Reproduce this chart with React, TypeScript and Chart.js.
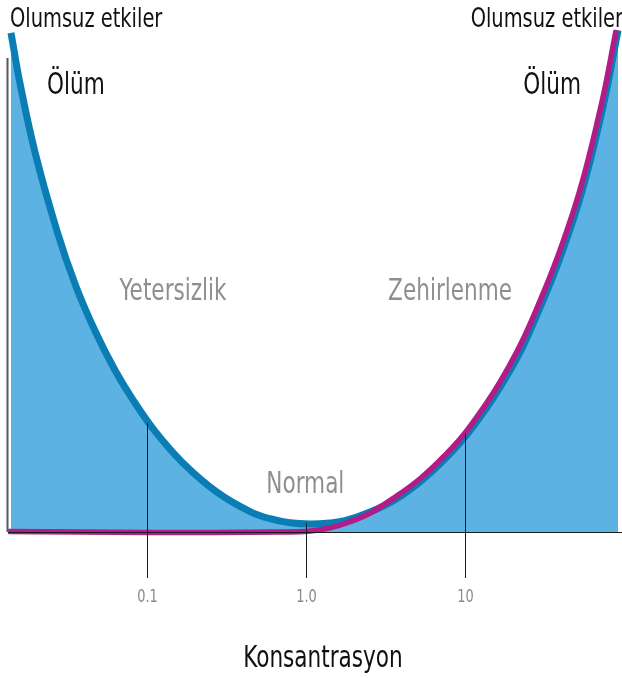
import { useEffect, useRef } from "react";
import { Chart, registerables } from "chart.js";

Chart.register(...registerables);

// Blue U-curve (essential substance: deficiency / normal / toxicity)
const essentialConc = [0.01396, 0.01589, 0.01976, 0.02718, 0.03573, 0.04775, 0.06295, 0.0817, 0.1122, 0.1683, 0.2754, 0.4446, 0.5937, 0.7932, 1.0597, 1.416, 1.759, 2.527, 3.628, 5.21, 7.484, 10.44, 16.6, 25.63, 47.8, 70.6, 91.7];
const essentialEffect = [97.5, 87.7, 74.2, 58.8, 48.0, 38.9, 31.6, 25.8, 19.7, 13.5, 7.8, 4.0, 2.6, 1.8, 1.56, 1.76, 2.2, 3.9, 6.3, 9.8, 14.3, 19.3, 28.3, 39.3, 60.9, 80.5, 98.0];

// Magenta curve (non-essential substance: only toxicity)
const toxicConc = [0.0134, 0.1045, 0.686, 1.06, 1.416, 1.892, 2.527, 3.628, 5.21, 7.484, 10.44, 16.6, 25.63, 47.8, 70.6, 89.1];
const toxicEffect = [0.1, -0.1, 0.0, 0.2, 0.8, 2.0, 3.7, 6.8, 10.4, 15.0, 20.1, 29.3, 40.6, 62.5, 82.4, 98.0];

// Axis
const tickValues = [0.1, 1, 10];
const tickLabels = ["0.1", "1.0", "10"];
const tickMarkerTops = [21.3, 1.8, 19.3];
const axisTitle = "Konsantrasyon";
const xMin = 0.01337;
const xMax = 97;
const yMin = 0;
const yMax = 100;
const yAxisLineTop = 92.6;

// Region labels
const regionLabels = ["Yetersizlik", "Normal", "Zehirlenme"];
const regionConc = [0.146, 0.99, 8.05];
const regionEffect = [45.3, 7.6, 45.3];
const deathLabel = "Ölüm";
const deathConc = [0.0357, 35.3];
const deathEffect = [85.5, 85.5];
const cornerLabel = "Olumsuz etkiler";

const FONT = "'Liberation Sans Narrow', 'DejaVu Sans Condensed', 'Noto Sans', sans-serif";
const CONDENSE = 0.8;
const BLUE_LINE = "#0a7db4";
const BLUE_FILL = "#5cb3e3";
const MAGENTA = "#b11c87";

function condensedText(ctx: CanvasRenderingContext2D, text: string, x: number, y: number) {
  ctx.save();
  ctx.translate(x, y);
  ctx.scale(CONDENSE, 1);
  ctx.fillText(text, 0, 0);
  ctx.restore();
}

const overlayPlugin = {
  id: "overlay",
  afterDatasetsDraw(chart: any) {
    const { ctx, chartArea, scales } = chart;
    const xs = scales.x;
    const ys = scales.y;
    const y0 = ys.getPixelForValue(0);
    ctx.save();

    // left axis line
    ctx.strokeStyle = "#4a5d66";
    ctx.lineWidth = 2;
    ctx.beginPath();
    ctx.moveTo(chartArea.left - 0.5, ys.getPixelForValue(yAxisLineTop));
    ctx.lineTo(chartArea.left - 0.5, y0);
    ctx.stroke();

    // bottom axis line
    ctx.strokeStyle = "#1a1a1a";
    ctx.lineWidth = 1;
    ctx.beginPath();
    ctx.moveTo(chartArea.left, y0 + 0.5);
    ctx.lineTo(chartArea.right, y0 + 0.5);
    ctx.stroke();

    // tick markers and labels
    ctx.textAlign = "center";
    ctx.textBaseline = "alphabetic";
    ctx.font = `18px ${FONT}`;
    tickValues.forEach((v, i) => {
      const px = Math.round(xs.getPixelForValue(v)) + 0.5;
      ctx.strokeStyle = "#1a1a1a";
      ctx.lineWidth = 1;
      ctx.beginPath();
      ctx.moveTo(px, ys.getPixelForValue(tickMarkerTops[i]));
      ctx.lineTo(px, y0 + 46);
      ctx.stroke();
      ctx.fillStyle = "#8a8a8a";
      condensedText(ctx, tickLabels[i], px, y0 + 70);
    });

    // axis title
    ctx.fillStyle = "#111";
    ctx.font = `30px ${FONT}`;
    condensedText(ctx, axisTitle, (chartArea.left + chartArea.right) / 2 + 8, y0 + 135);

    // region labels
    ctx.fillStyle = "#8f8f8f";
    ctx.font = `30px ${FONT}`;
    regionLabels.forEach((t, i) => {
      condensedText(ctx, t, xs.getPixelForValue(regionConc[i]), ys.getPixelForValue(regionEffect[i]));
    });

    // death labels
    ctx.fillStyle = "#111";
    ctx.font = `30px ${FONT}`;
    deathConc.forEach((c, i) => {
      condensedText(ctx, deathLabel, xs.getPixelForValue(c), ys.getPixelForValue(deathEffect[i]));
    });

    // corner labels
    ctx.font = `27px ${FONT}`;
    const topBase = chartArea.top + 7;
    ctx.textAlign = "left";
    condensedText(ctx, cornerLabel, chartArea.left + 2, topBase);
    ctx.textAlign = "right";
    condensedText(ctx, cornerLabel, chartArea.right + 1, topBase);

    ctx.restore();
  },
};

export default function App() {
  const ref = useRef<HTMLCanvasElement | null>(null);

  useEffect(() => {
    if (!ref.current) return;
    const chart = new Chart(ref.current, {
      type: "line",
      data: {
        datasets: [
          {
            label: "toxic",
            data: toxicConc.map((c, i) => ({ x: c, y: toxicEffect[i] })),
            borderColor: MAGENTA,
            borderWidth: 5.5,
            pointRadius: 0,
            fill: false,
            tension: 0.4,
            order: 0,
            clip: 6,
          },
          {
            label: "essential",
            data: essentialConc.map((c, i) => ({ x: c, y: essentialEffect[i] })),
            borderColor: BLUE_LINE,
            backgroundColor: BLUE_FILL,
            borderWidth: 7,
            pointRadius: 0,
            fill: "origin",
            tension: 0.4,
            order: 1,
            clip: 6,
          },
        ],
      },
      options: {
        animation: false,
        responsive: false,
        layout: { padding: { left: 8, right: 0, top: 20, bottom: 146 } },
        plugins: { legend: { display: false }, tooltip: { enabled: false } },
        scales: {
          x: { type: "logarithmic", min: xMin, max: xMax, display: false },
          y: { type: "linear", min: yMin, max: yMax, display: false },
        },
      },
      plugins: [overlayPlugin],
    });
    return () => chart.destroy();
  }, []);

  return (
    <div style={{ position: "absolute", left: 0, top: 0, width: 622, height: 678, background: "#fff" }}>
      <canvas ref={ref} width={622} height={678} />
    </div>
  );
}
